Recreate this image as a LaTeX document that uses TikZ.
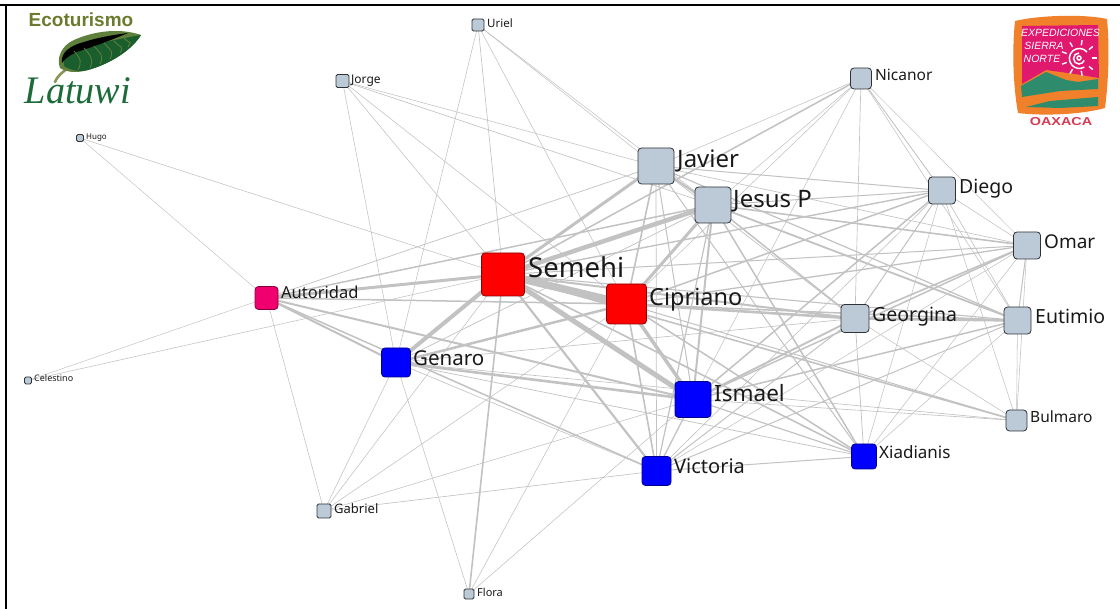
\documentclass[tikz,border=0pt]{standalone}
\usepackage{fontspec}
\setmainfont{Noto Sans}
\newfontfamily\logoserif{Liberation Serif}
\newfontfamily\logosans{Liberation Sans}
\usetikzlibrary{backgrounds}
\definecolor{nodegrey}{HTML}{BCCAD8}
\definecolor{edgegrey}{HTML}{C2C2C2}
\definecolor{pinknode}{HTML}{F0006E}
\definecolor{leafdark}{HTML}{1B5E2E}
\definecolor{leaflight}{HTML}{5F7F3C}
\definecolor{logoolive}{HTML}{6B7A2C}
\definecolor{logogreen}{HTML}{1C6B38}
\definecolor{logoorange}{HTML}{F0802A}
\definecolor{logomagenta}{HTML}{E0186E}
\definecolor{logoteal}{HTML}{2E8C6C}
\definecolor{logored}{HTML}{D83A50}
\tikzset{
  vertex/.style={rectangle,rounded corners=3.5pt,inner sep=0pt,line width=0.8pt},
  greyv/.style={vertex,fill=nodegrey,draw=black!75!nodegrey},
  tinyv/.style={greyv,rounded corners=1.5pt},
  redv/.style={vertex,fill=red,draw=red!55!black},
  bluev/.style={vertex,fill=blue,draw=blue!55!black},
  pinkv/.style={vertex,fill=pinknode,draw=pinknode!55!black},
  lab/.style={anchor=base west,inner sep=0pt,text=black!90},
  edge/.style={draw=edgegrey,line cap=butt},
  frameline/.style={line width=2.6pt,draw=black},
}
\newcommand{\vx}[5]{\node[#1,minimum size=#2pt] (#3) at (#4,#5) {};}
\newcommand{\lb}[5]{\node[lab,font=\fontsize{#4}{#4}\selectfont] (#1) at (#2,#3) {#5};}
\begin{document}
\begin{tikzpicture}[x=1pt,y=-1pt]
\useasboundingbox (0,0) rectangle (1120,609);
% vertices
\vx{tinyv}{12}{Uriel}{478}{25}
\vx{tinyv}{13}{Jorge}{342.5}{81}
\vx{greyv}{21}{Nicanor}{861}{78.5}
\vx{tinyv}{7}{Hugo}{80}{138}
\vx{greyv}{36}{Javier}{656}{166}
\vx{greyv}{27}{Diego}{942}{190.5}
\vx{greyv}{36}{JesusP}{713}{205}
\vx{greyv}{27}{Omar}{1027}{245.5}
\vx{redv}{43}{Semehi}{503}{274.5}
\vx{redv}{40}{Cipriano}{626.5}{304}
\vx{pinkv}{23}{Autoridad}{266.5}{298}
\vx{greyv}{28}{Georgina}{855}{318.5}
\vx{greyv}{27}{Eutimio}{1017.5}{320.5}
\vx{bluev}{29}{Genaro}{396}{362.5}
\vx{tinyv}{7}{Celestino}{28}{380.5}
\vx{bluev}{36}{Ismael}{693}{399.5}
\vx{greyv}{21}{Bulmaro}{1016.5}{420.5}
\vx{bluev}{25}{Xiadianis}{864}{456.5}
\vx{bluev}{29}{Victoria}{656.5}{471}
\vx{tinyv}{14}{Gabriel}{324}{511}
\vx{tinyv}{10}{Flora}{469}{594}
% labels
\lb{tUriel}{487}{28}{11.5}{Uriel}
\lb{tJorge}{351}{84}{12}{Jorge}
\lb{tNicanor}{875}{81}{15.5}{Nicanor}
\lb{tHugo}{86}{140}{8}{Hugo}
\lb{tJavier}{677}{168}{24}{Javier}
\lb{tDiego}{959}{194}{19.5}{Diego}
\lb{tJesus}{733}{208}{24}{Jesus P}
\lb{tOmar}{1044}{249}{19}{Omar}
\lb{tSemehi}{528}{278}{27.5}{Semehi}
\lb{tCipriano}{649}{306}{23.5}{Cipriano}
\lb{tAutoridad}{281}{299}{16.5}{Autoridad}
\lb{tGeorgina}{872}{322}{19.5}{Georgina}
\lb{tEutimio}{1035}{323.5}{19.5}{Eutimio}
\lb{tGenaro}{413}{366}{20.5}{Genaro}
\lb{tCelestino}{34}{382}{9}{Celestino}
\lb{tIsmael}{714}{402}{22.5}{Ismael}
\lb{tBulmaro}{1030}{422.5}{15.5}{Bulmaro}
\lb{tXiadianis}{879}{459}{17}{Xiadianis}
\lb{tVictoria}{674}{474}{20}{Victoria}
\lb{tGabriel}{334}{514}{13}{Gabriel}
\lb{tFlora}{477}{596}{11}{Flora}
% edges
\begin{pgfonlayer}{background}
\foreach \a/\b/\w in {
Uriel/Genaro/0.7,Uriel/Semehi/0.8,Uriel/Cipriano/0.7,Uriel/Javier/0.7,Uriel/JesusP/0.7,
Jorge/Javier/0.7,Jorge/JesusP/0.8,Jorge/Semehi/0.7,Jorge/Cipriano/0.7,Jorge/Genaro/0.7,
Hugo/Semehi/0.7,Hugo/Autoridad/0.6,
Celestino/Autoridad/0.6,Celestino/Semehi/0.7,
Nicanor/Javier/0.7,Nicanor/Semehi/1.5,Nicanor/JesusP/0.7,Nicanor/Cipriano/0.7,Nicanor/Ismael/0.7,
Nicanor/Georgina/0.8,Nicanor/Diego/0.7,Nicanor/Diego/0.7,Nicanor/Omar/0.6,Nicanor/Eutimio/0.7,
Javier/Semehi/3,Javier/JesusP/2.2,Javier/Autoridad/0.9,Javier/Cipriano/1.6,Javier/Ismael/1,
Javier/Victoria/0.9,Javier/Diego/1,Javier/Omar/0.8,Javier/Georgina/0.9,Javier/Eutimio/1.2,Javier/Xiadianis/1,
JesusP/Semehi/4.5,JesusP/Cipriano/3,JesusP/Ismael/2,JesusP/Victoria/1.2,JesusP/Georgina/1.5,
JesusP/Diego/1,JesusP/Omar/1.6,JesusP/Eutimio/1.8,JesusP/Xiadianis/1.5,JesusP/Autoridad/1.5,JesusP/Genaro/0.9,
Diego/Semehi/1.4,Diego/Cipriano/1.5,Diego/Ismael/1.5,Diego/Georgina/1,Diego/Omar/0.7,Diego/Eutimio/0.8,
Diego/Bulmaro/0.7,Diego/Xiadianis/0.7,Diego/Victoria/0.8,
Omar/Semehi/1,Omar/Cipriano/1.3,Omar/Ismael/1.5,Omar/Georgina/1.6,Omar/Eutimio/1,Omar/Bulmaro/0.7,Omar/Victoria/0.7,Omar/Xiadianis/0.7,
Semehi/Cipriano/7.5,Semehi/Ismael/5,Semehi/Genaro/4,Semehi/Autoridad/3,Semehi/Victoria/2.2,Semehi/Georgina/2,
Semehi/Eutimio/1.1,Semehi/Xiadianis/1.6,Semehi/Flora/1.6,Semehi/Gabriel/0.7,Semehi/Bulmaro/1.6,
Cipriano/Ismael/3.5,Cipriano/Genaro/2.5,Cipriano/Georgina/2.6,Cipriano/Victoria/1.6,Cipriano/Autoridad/1.5,
Cipriano/Eutimio/1.5,Cipriano/Xiadianis/1.5,Cipriano/Flora/0.7,Cipriano/Gabriel/0.7,Cipriano/Bulmaro/1,
Autoridad/Ismael/2,Autoridad/Genaro/2,Autoridad/Victoria/1.5,Autoridad/Gabriel/0.7,
Georgina/Ismael/2,Georgina/Eutimio/2.6,Georgina/Victoria/1,Georgina/Xiadianis/0.9,Georgina/Bulmaro/0.7,Georgina/Genaro/0.8,
Eutimio/Ismael/1.5,Eutimio/Victoria/1,Eutimio/Xiadianis/0.7,Eutimio/Bulmaro/0.7,
Genaro/Ismael/2.6,Genaro/Xiadianis/0.9,Genaro/Bulmaro/0.8,Genaro/Flora/0.7,Genaro/Gabriel/0.7,Genaro/Victoria/0.8,
Ismael/Victoria/1.3,Ismael/Xiadianis/1.2,Ismael/Bulmaro/0.8,Ismael/Flora/0.7,Ismael/Gabriel/0.7,
Victoria/Xiadianis/1,Victoria/Gabriel/0.8
}{\pgfmathsetmacro{\lw}{\w<1 ? \w*0.8 : \w}
  \draw[edge,line width=\lw pt] (\a.center) -- (\b.center);}
\end{pgfonlayer}
% frame
\draw[frameline] (0,5) -- (1120,5);
\draw[frameline] (6,3.7) -- (6,609);
% Latuwi logo
\node[font=\logosans\bfseries\fontsize{19}{19}\selectfont,text=logoolive,inner sep=0pt] (ecotext) at (81,20) {Ecoturismo};
\node[font=\logoserif\itshape\fontsize{39}{39}\selectfont,text=logogreen,inner sep=0pt,xscale=0.98] (latuwi) at (78,91) {Latuwi};
\draw[line width=2.6pt,draw=logoolive!80,line cap=round] (55,82) .. controls (58,75) and (63,72) .. (68,68);
\fill[leaflight] (60,68) .. controls (56,58) and (62,46) .. (72,41) .. controls (90,32) and (118,27) .. (141,35) .. controls (132,50) and (110,64) .. (88,70) .. controls (78,73) and (68,73) .. (60,68) -- cycle;
\fill[leafdark] (64,66) .. controls (62,56) and (72,50) .. (84,47) .. controls (100,43) and (124,38) .. (141,35) .. controls (132,50) and (110,64) .. (88,70) .. controls (80,72) and (72,71) .. (64,66) -- cycle;
\fill[black] (62,63) .. controls (60,52) and (72,45) .. (84,42) .. controls (96,38) and (112,35) .. (128,33) .. controls (114,39) and (98,45) .. (86,49) .. controls (76,52) and (68,55) .. (62,63) -- cycle;
\foreach \xa/\ya/\xb/\yb in {74/51/78/70,84/48/90/68,94/46/100/64,104/43/110/59,114/41/120/53,124/38/128/47}{
  \draw[leaflight,line width=0.8pt] (\xa,\ya) .. controls (\xa+7,\ya+8) and (\xb+4,\yb-8) .. (\xb,\yb);}
% Expediciones logo
\fill[logoorange] (1015,21) .. controls (1040,15) and (1085,14) .. (1107,19) .. controls (1110,50) and (1108,85) .. (1105,108) .. controls (1080,115) and (1040,116) .. (1018,113) .. controls (1013,85) and (1012,50) .. (1015,21) -- cycle;
\fill[logomagenta] (1022,26) -- (1098,25) -- (1099,78) -- (1075,74) -- (1046,70) -- (1022,84) -- cycle;
\fill[logoteal] (1021,86) -- (1046,72) -- (1066,80) -- (1078,82) -- (1098,79) -- (1098,89) -- (1060,91) -- (1022,97) -- cycle;
\fill[logoteal] (1026,107) -- (1050,101) -- (1098,97) -- (1098,106) -- (1060,108) -- cycle;
\node[font=\logosans\itshape\fontsize{10.5}{10.5}\selectfont,text=white,inner sep=0pt] (exped) at (1060.5,33) {EXPEDICIONES};
\node[font=\logosans\itshape\fontsize{10.5}{10.5}\selectfont,text=white,inner sep=0pt] (sierra) at (1044,46) {SIERRA};
\node[font=\logosans\itshape\fontsize{10.5}{10.5}\selectfont,text=white,inner sep=0pt] (norte) at (1042,59) {NORTE};
\draw[white,line width=1.5pt] (1079,58) circle (2pt);
\draw[white,line width=1.5pt] (1079,53) arc (90:340:5.5pt);
\draw[white,line width=1.5pt] (1087,52) arc (40:300:10pt);
\foreach \r in {0,40,...,320}{\draw[white,line width=1.4pt] (1079,58) ++(\r:13pt) -- ++(\r:5pt);}
\node[font=\logosans\bfseries\fontsize{11.5}{11.5}\selectfont,text=logored,inner sep=0pt,xscale=1.25] (oaxaca) at (1061,122) {OAXACA};
\end{tikzpicture}
\end{document}
